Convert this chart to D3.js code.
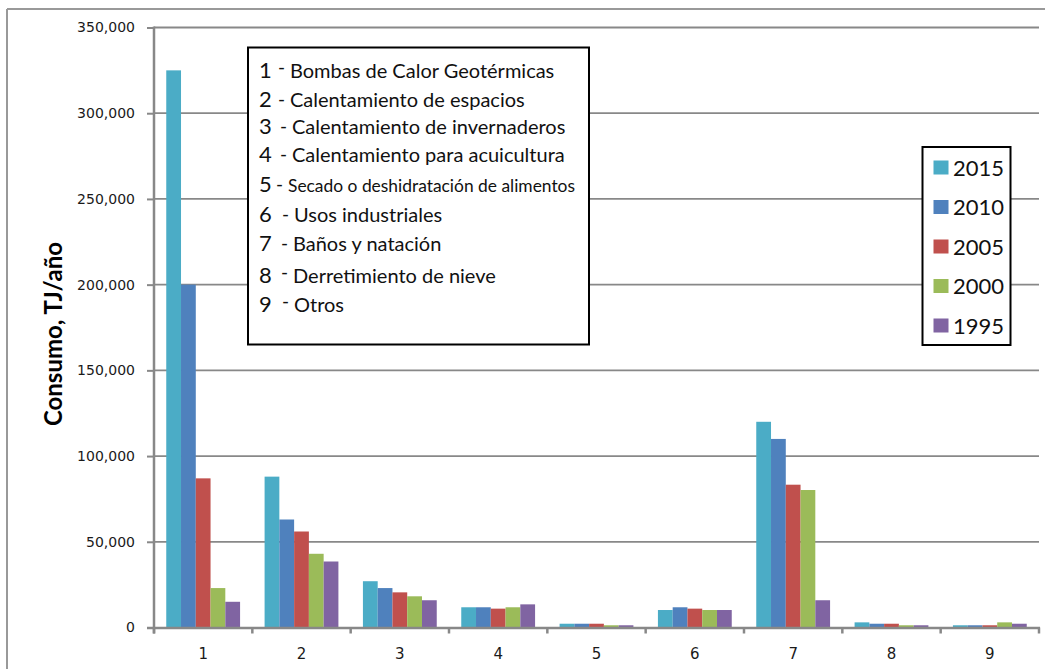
<!DOCTYPE html>
<html>
<head>
<meta charset="utf-8">
<script src="https://cdn.jsdelivr.net/npm/d3@7"></script>
<style>
  html, body { margin: 0; padding: 0; background: #fff; }
  svg { display: block; }
  .tick-label { font-family: "DejaVu Sans", sans-serif; font-size: 14px; fill: #1a1a1a; }
  .legend-txt { font-family: Lato, "Open Sans", sans-serif; fill: #111; }
</style>
</head>
<body>
<svg id="chart" width="1045" height="669"></svg>
<script>
/* ---------- data ---------- */
const categories = ['1', '2', '3', '4', '5', '6', '7', '8', '9'];
const years = ['2015', '2010', '2005', '2000', '1995'];
const colors = ['#4BACC6', '#4F81BD', '#C0504D', '#9BBB59', '#8064A2'];

// consumo TJ/año, by year, one value per category
const v2015 = [325000, 88000, 27000, 11800, 2200, 10200, 120000, 3000, 1300];
const v2010 = [200000, 63000, 23000, 11800, 2200, 11800, 110000, 2200, 1300];
const v2005 = [87000, 56000, 20500, 11000, 2200, 11000, 83300, 2200, 1300];
const v2000 = [23000, 43000, 18200, 11800, 1300, 10200, 80200, 1300, 3000];
const v1995 = [15000, 38500, 15900, 13500, 1300, 10200, 15900, 1300, 2200];
const seriesValues = [v2015, v2010, v2005, v2000, v1995];

const yTicks = [0, 50000, 100000, 150000, 200000, 250000, 300000, 350000];

const usos = [
  'Bombas de Calor Geotérmicas',
  'Calentamiento de espacios',
  'Calentamiento de invernaderos',
  'Calentamiento para acuicultura',
  'Secado o deshidratación de alimentos',
  'Usos industriales',
  'Baños y natación',
  'Derretimiento de nieve',
  'Otros'
];

/* ---------- layout ---------- */
const svg = d3.select('#chart');
const plot = { left: 154, right: 1039, top: 27.5, bottom: 627.5 };

const x = d3.scaleBand().domain(categories).range([plot.left, plot.right]).padding(0);
const xInner = d3.scaleBand().domain(years).range([0, x.bandwidth()])
  .paddingInner(0).paddingOuter(0.83);
const y = d3.scaleLinear().domain([0, 350000]).range([plot.bottom, plot.top]);

const fmt = d3.format(',');

// outer frame (only top and left visible in the crop)
svg.append('line').attr('x1', 7).attr('x2', 1045).attr('y1', 9).attr('y2', 9)
  .attr('stroke', '#999').attr('stroke-width', 2);
svg.append('line').attr('x1', 7).attr('x2', 7).attr('y1', 9).attr('y2', 669)
  .attr('stroke', '#999').attr('stroke-width', 2);

// gridlines
svg.append('g').selectAll('line')
  .data(yTicks.filter(d => d > 0))
  .join('line')
  .attr('x1', plot.left).attr('x2', plot.right)
  .attr('y1', d => y(d)).attr('y2', d => y(d))
  .attr('stroke', '#888').attr('stroke-width', 1.8);

/* ---------- bars ---------- */
const rows = categories.map((c, i) => ({ cat: c, vals: years.map((yr, k) => ({ yr, k, v: seriesValues[k][i] })) }));

svg.append('g').selectAll('g')
  .data(rows)
  .join('g')
  .attr('transform', d => `translate(${x(d.cat)},0)`)
  .selectAll('rect')
  .data(d => d.vals)
  .join('rect')
  .attr('x', d => xInner(d.yr))
  .attr('width', xInner.bandwidth())
  .attr('y', d => y(d.v))
  .attr('height', d => y(0) - y(d.v))
  .attr('fill', d => colors[d.k]);

/* ---------- axes ---------- */
const yAxis = d3.axisLeft(y).tickValues(yTicks).tickSize(7).tickFormat(fmt).tickPadding(12);
const gy = svg.append('g').attr('transform', `translate(${plot.left},0)`).call(yAxis);
gy.select('.domain').remove();
gy.selectAll('.tick line').attr('stroke', '#888').attr('stroke-width', 2);
gy.selectAll('.tick text').attr('class', 'tick-label').attr('font-family', null).attr('font-size', null);
svg.append('line').attr('x1', plot.left).attr('x2', plot.left)
  .attr('y1', plot.top - 1).attr('y2', plot.bottom + 6)
  .attr('stroke', '#888').attr('stroke-width', 2.5);

// x axis baseline + boundary ticks
svg.append('line').attr('x1', plot.left - 7).attr('x2', plot.right + 1)
  .attr('y1', plot.bottom + 0.5).attr('y2', plot.bottom + 0.5)
  .attr('stroke', '#888').attr('stroke-width', 2.5);
const bounds = categories.map(c => x(c)).concat([plot.right]);
svg.append('g').selectAll('line')
  .data(bounds)
  .join('line')
  .attr('x1', d => d).attr('x2', d => d)
  .attr('y1', plot.bottom).attr('y2', plot.bottom + 6)
  .attr('stroke', '#888').attr('stroke-width', 2.5);
svg.append('g').selectAll('text')
  .data(categories)
  .join('text')
  .attr('class', 'tick-label')
  .attr('x', d => x(d) + x.bandwidth() / 2)
  .attr('y', 659)
  .attr('text-anchor', 'middle')
  .style('font-size', '15px')
  .text(d => d);

// y axis title
svg.append('text')
  .attr('transform', 'translate(62,334) rotate(-90)')
  .attr('text-anchor', 'middle')
  .style('font-family', 'Lato, "Open Sans", sans-serif')
  .style('font-weight', 'bold')
  .style('font-size', '24px')
  .attr('fill', '#000')
  .text('Consumo, TJ/año');

/* ---------- usos legend box ---------- */
const box = svg.append('g');
box.append('rect').attr('x', 248).attr('y', 47.5).attr('width', 341).attr('height', 297)
  .attr('fill', '#fff').attr('stroke', '#000').attr('stroke-width', 2);
const usoBase = [78, 106.5, 134, 161.5, 191.5, 221.5, 250.5, 283, 311.5];
const usoX = [290, 290, 292, 292, 288, 294, 293, 293, 294];
usos.forEach((u, i) => {
  box.append('text').attr('class', 'legend-txt')
    .attr('x', 259).attr('y', usoBase[i])
    .style('font-size', '22px')
    .text(`${i + 1}`);
  box.append('text').attr('class', 'legend-txt')
    .attr('x', usoX[i] - 12).attr('y', usoBase[i] - (i === 0 || i === 7 || i === 8 ? 4 : 1))
    .style('font-size', '19px')
    .text('-');
  box.append('text').attr('class', 'legend-txt')
    .attr('x', usoX[i]).attr('y', usoBase[i])
    .style('font-size', i === 4 ? '17.4px' : '20px')
    .text(u);
});

/* ---------- series legend ---------- */
const lg = svg.append('g');
lg.append('rect').attr('x', 922.5).attr('y', 147).attr('width', 88).attr('height', 198)
  .attr('fill', '#fff').attr('stroke', '#000').attr('stroke-width', 2);
const rowY = d3.scalePoint().domain(years).range([167.5, 325.5]);
lg.selectAll('rect.sw')
  .data(years)
  .join('rect')
  .attr('class', 'sw')
  .attr('x', 933.5).attr('y', d => rowY(d) - 7)
  .attr('width', 15).attr('height', 14)
  .attr('fill', (d, i) => colors[i]);
lg.selectAll('text')
  .data(years)
  .join('text')
  .attr('class', 'legend-txt')
  .attr('x', 953).attr('y', d => rowY(d) + 8)
  .style('font-size', '22px')
  .text(d => d);
</script>
</body>
</html>
